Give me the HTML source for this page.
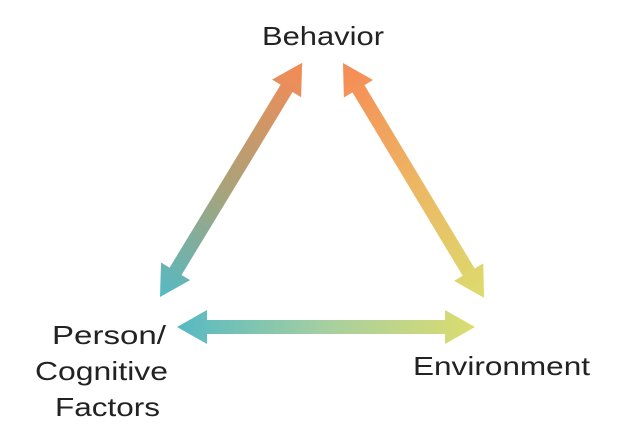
<!DOCTYPE html>
<html><head><style>
body{margin:0;background:#fff;width:624px;height:434px;overflow:hidden}
svg text{font-family:"Liberation Sans",sans-serif;font-size:26px;fill:#222}
</style></head><body>
<svg width="624" height="434" viewBox="0 0 624 434">
<defs>
<linearGradient id="g1" gradientUnits="userSpaceOnUse" x1="0" y1="0" x2="274" y2="0"><stop offset="0" stop-color="#55b9c4"/><stop offset="0.45" stop-color="#a8a37a"/><stop offset="1" stop-color="#f68a55"/></linearGradient>
<linearGradient id="g2" gradientUnits="userSpaceOnUse" x1="0" y1="0" x2="274" y2="0"><stop offset="0" stop-color="#f68a55"/><stop offset="0.5" stop-color="#edb563"/><stop offset="1" stop-color="#dcdc6e"/></linearGradient>
<linearGradient id="g3" gradientUnits="userSpaceOnUse" x1="0" y1="0" x2="298" y2="0"><stop offset="0" stop-color="#55b9c4"/><stop offset="0.5" stop-color="#a6cfa0"/><stop offset="1" stop-color="#dcdc6e"/></linearGradient>
</defs>
<g transform="translate(160,297) rotate(-58.75)"><polygon fill="url(#g1)" points="0,0 30,-17 30,-7 244,-7 244,-17 274,0 244,17 244,7 30,7 30,17"/></g>
<g transform="translate(343,63) rotate(59)"><polygon fill="url(#g2)" points="0,0 30,-17 30,-7 244,-7 244,-17 274,0 244,17 244,7 30,7 30,17"/></g>
<g transform="translate(177,327)"><polygon fill="url(#g3)" points="0,0 30,-17 30,-7 268,-7 268,-17 298,0 268,17 268,7 30,7 30,17"/></g>
<text x="262" y="45" textLength="122" lengthAdjust="spacingAndGlyphs">Behavior</text>
<text x="52" y="344" textLength="114" lengthAdjust="spacingAndGlyphs">Person/</text>
<text x="35" y="380" textLength="133" lengthAdjust="spacingAndGlyphs">Cognitive</text>
<text x="55" y="416" textLength="105" lengthAdjust="spacingAndGlyphs">Factors</text>
<text x="413" y="375" textLength="177" lengthAdjust="spacingAndGlyphs">Environment</text>
</svg>
</body></html>
